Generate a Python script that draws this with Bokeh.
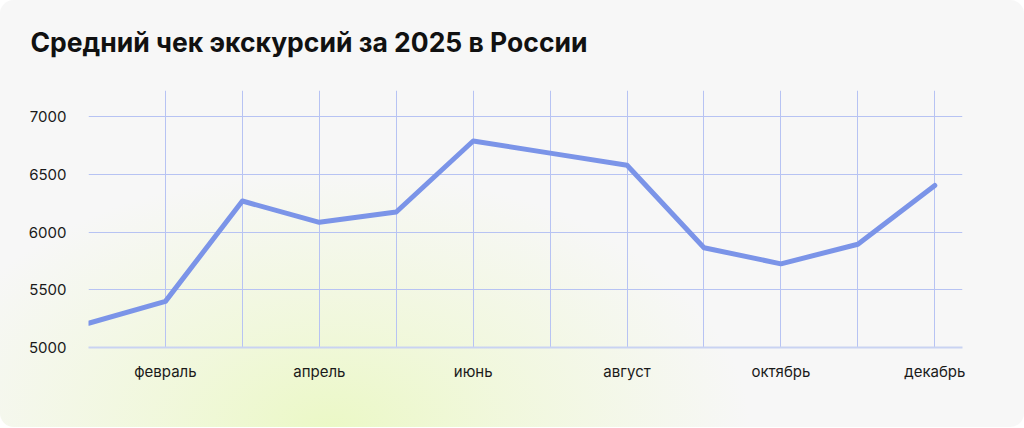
from bokeh.plotting import figure
from bokeh.models import FixedTicker, Label
from bokeh.layouts import column
from bokeh.embed import file_html
from bokeh.resources import INLINE

months = ["январь", "февраль", "март", "апрель", "май", "июнь",
          "июль", "август", "сентябрь", "октябрь", "ноябрь", "декабрь"]
values = [5210, 5400, 6270, 6085, 6175, 6790, 6685, 6580, 5865, 5725, 5895, 6405]
y_ticks = [5000, 5500, 6000, 6500, 7000]
title_text = "Средний чек экскурсий за 2025 в России"

x = list(range(1, len(months) + 1))
labels = {i: (m if i % 2 == 0 else "") for i, m in zip(x, months)}

FONT = "Inter"
W = 1024
TITLE_H = 90
H = 337

# --- title strip (its own small svg figure) ---
t = figure(width=W, height=TITLE_H, output_backend="svg", toolbar_location=None,
           x_axis_type=None, y_axis_type=None, min_border=0,
           x_range=(0, 1), y_range=(0, 1))
t.frame_align = False
t.background_fill_alpha = 0
t.border_fill_alpha = 0
t.outline_line_color = None
t.grid.visible = False
t.add_layout(Label(x=30, y=49, x_units="screen", y_units="screen",
                   text=title_text, text_align="left", text_baseline="alphabetic",
                   text_font=FONT, text_font_style="bold", text_font_size="26.5px",
                   text_color="#111111"))

# --- chart ---
p = figure(width=W, height=H, output_backend="svg", toolbar_location=None,
           x_range=(1, 12.36), y_range=(5000, 7228),
           min_border_left=88, min_border_right=62, min_border_top=0, min_border_bottom=80)
p.frame_align = False
p.background_fill_alpha = 0
p.border_fill_alpha = 0
p.outline_line_color = None

p.line(x, values, line_color="#7b94e8", line_width=5, line_join="round", line_cap="round")

p.xaxis.ticker = FixedTicker(ticks=x)
p.xaxis.major_label_overrides = labels
p.yaxis.ticker = FixedTicker(ticks=y_ticks)

for ax in (p.xaxis, p.yaxis):
    ax.axis_line_color = None
    ax.major_tick_line_color = None
    ax.minor_tick_line_color = None
    ax.major_tick_out = 0
    ax.major_tick_in = 0
    ax.major_label_text_font = FONT
    ax.major_label_text_font_size = "15px"
    ax.major_label_text_color = "#1a1a1a"

p.xaxis.axis_line_color = "#c9d3f2"
p.xaxis.axis_line_width = 2
p.xaxis.major_label_standoff = 14
p.yaxis.major_label_standoff = 22

p.xgrid.ticker = FixedTicker(ticks=x)
p.ygrid.ticker = FixedTicker(ticks=y_ticks)
p.grid.grid_line_color = "#b7c3f3"
p.grid.grid_line_width = 1

layout = column(t, p, spacing=0)
layout.styles = {"border-radius": "14px",
                 "background": "radial-gradient(ellipse 420px 260px at 330px 430px, #ebf8c6 0%, rgba(238,248,208,0.7) 40%, rgba(247,247,247,0) 100%), #f7f7f7"}

open("out.html", "w").write(file_html(layout, INLINE))
